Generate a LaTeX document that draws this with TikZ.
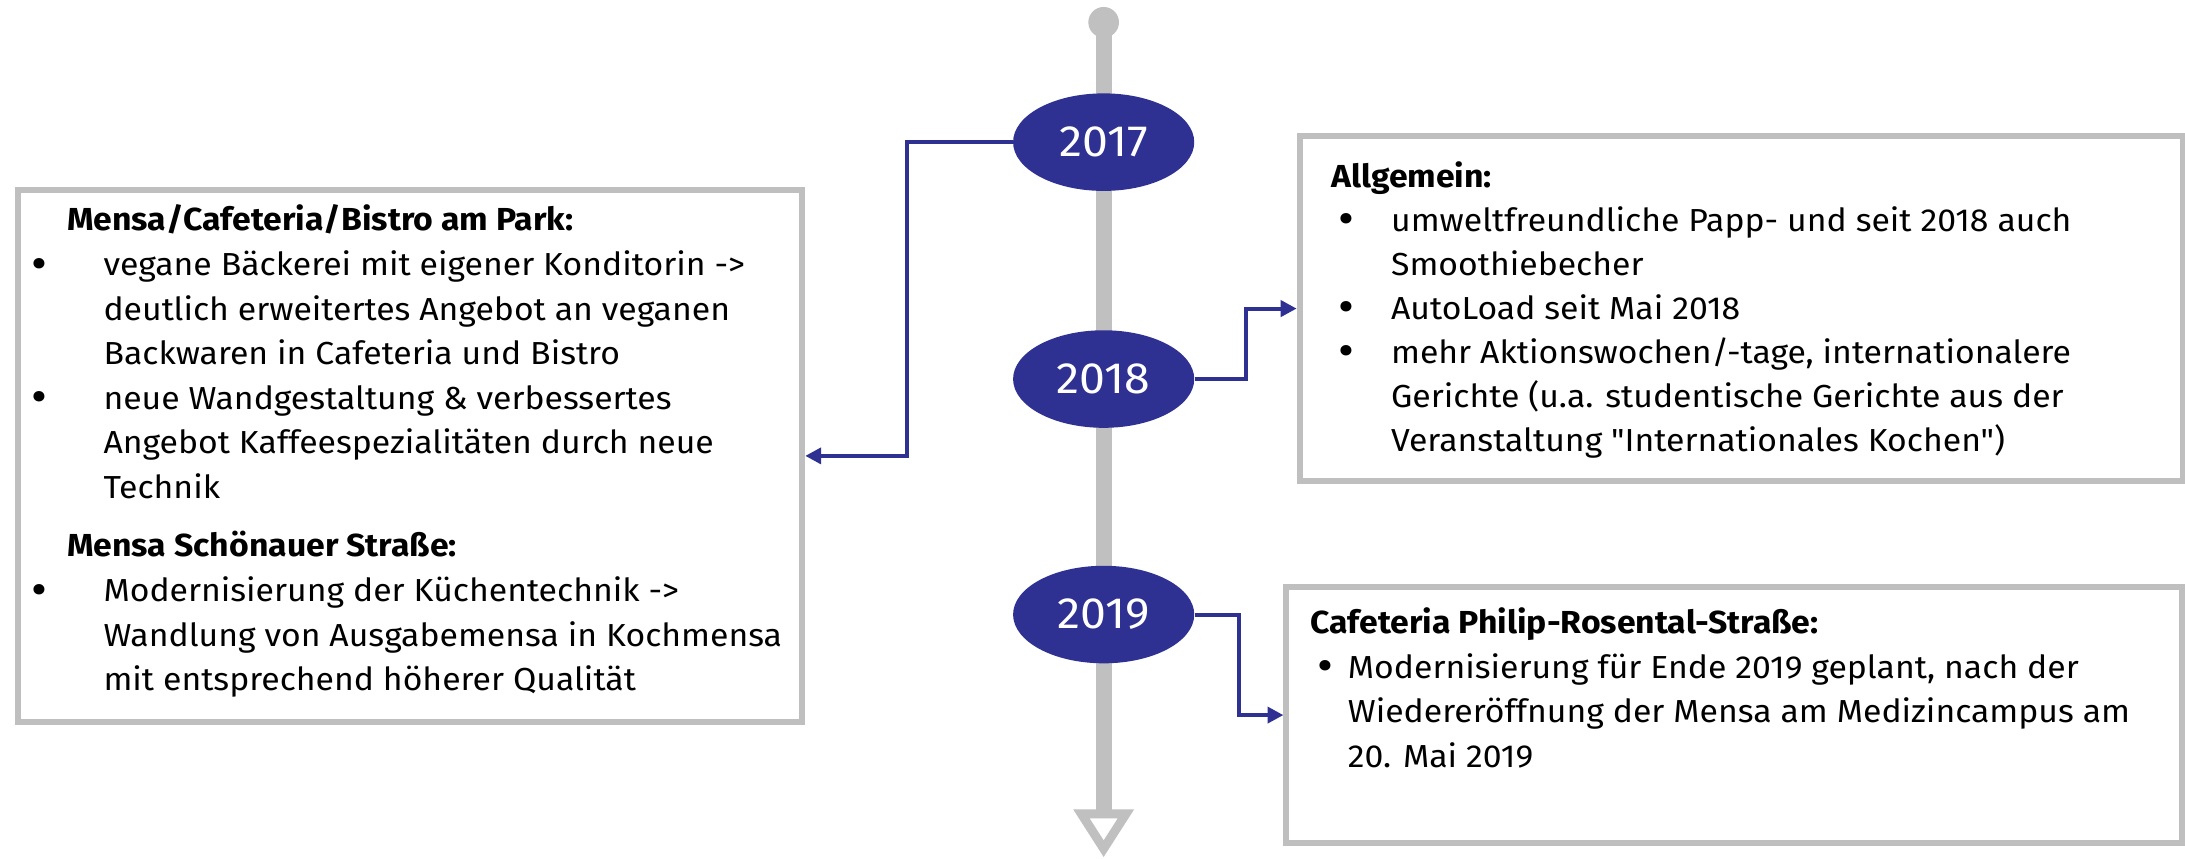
\documentclass[tikz,border=0pt]{standalone}
\usepackage{fontspec}
\setmainfont{Fira Sans}[Ligatures=TeXOff, FakeStretch=1.06]
\usetikzlibrary{shapes.geometric,arrows.meta}
\definecolor{tlgray}{HTML}{BFC0BF}
\definecolor{boxgray}{HTML}{BFBFBF}
\definecolor{navy}{HTML}{2E3192}
\newcommand{\bul}[1]{\makebox[#1][l]{\raisebox{-1.8pt}{\scalebox{1.45}{•}}}}
\begin{document}
\begin{tikzpicture}[x=0.7pt,y=-0.7pt,
  year/.style={ellipse, fill=navy, draw=none, minimum width=91pt, minimum height=49pt, inner sep=0pt, text=white, font=\fontsize{22}{26}\selectfont},
  infobox/.style={draw=boxgray, line width=3pt, rectangle, anchor=north west, inner sep=0pt},
  link/.style={draw=navy, line width=2pt, -{Triangle[length=8pt,width=8pt]}},
  txt/.style={anchor=north west, inner sep=0pt, align=left},
  tl/.style={draw=tlgray, line width=8pt}
]
\useasboundingbox (0,0) rectangle (1568,616);
\fill[white] (0,0) rectangle (1568,616);
% timeline
\node[circle, fill=tlgray, minimum size=15.4pt, inner sep=0pt] (top) at (792,16) {};
\coordinate (bot) at (792,584);
\draw[tl] (top.center) -- (bot);
\draw[draw=tlgray, line width=4.5pt, line join=miter] (776,584) -- (808,584) -- (792,609) -- cycle;
% years
\node[year] (y17) at (792,102) {2017};
\node[year] (y18) at (792,272) {2018};
\node[year] (y19) at (792,441) {2019};
% boxes
\node[infobox, minimum width=393.8pt, minimum height=267.4pt] (bl) at (11,134) {};
\node[infobox, minimum width=443.5pt, minimum height=173.3pt] (br1) at (930.5,95.5) {};
\node[infobox, minimum width=450pt, minimum height=128.8pt] (br2) at (921,419) {};
% connectors
\draw[link] (y17.west) -- (651,102) |- (bl.east);
\draw[link] (y18.east) -- (894,272) |- (br1.west);
\draw[link] (y19.east) -- (889,441) |- (br2.west);
% texts
\node[txt, font=\fontsize{16}{22.4}\selectfont] (tl) at (22,143) {%
\begin{tabular}{@{}l@{}l@{}}
\multicolumn{2}{@{}l@{}}{\hspace{18.2pt}\bfseries Mensa/Cafeteria/Bistro am Park:}\\
\bul{36.4pt} & vegane Bäckerei mit eigener Konditorin ->\\
 & deutlich erweitertes Angebot an veganen\\
 & Backwaren in Cafeteria und Bistro\\
\bul{36.4pt} & neue Wandgestaltung \& verbessertes\\
 & Angebot Kaffeespezialitäten durch neue\\
 & Technik\\[7pt]
\multicolumn{2}{@{}l@{}}{\hspace{18.2pt}\bfseries Mensa Schönauer Straße:}\\
\bul{36.4pt} & Modernisierung der Küchentechnik ->\\
 & Wandlung von Ausgabemensa in Kochmensa\\
 & mit entsprechend höherer Qualität
\end{tabular}};
\node[txt, font=\fontsize{16}{22.1}\selectfont] (tr1) at (955,112) {%
\begin{tabular}{@{}l@{}l@{}}
\multicolumn{2}{@{}l@{}}{\bfseries Allgemein:}\\
\hspace{3.5pt}\bul{26.6pt} & umweltfreundliche Papp- und seit 2018 auch\\
 & Smoothiebecher\\
\hspace{3.5pt}\bul{26.6pt} & AutoLoad seit Mai 2018\\
\hspace{3.5pt}\bul{26.6pt} & mehr Aktionswochen/-tage, internationalere\\
 & Gerichte (u.a. studentische Gerichte aus der\\
 & Veranstaltung "Internationales Kochen")
\end{tabular}};
\node[txt, font=\fontsize{16}{22.4}\selectfont] (tr2) at (940,432) {%
\begin{tabular}{@{}l@{}l@{}}
\multicolumn{2}{@{}l@{}}{\bfseries Cafeteria Philip-Rosental-Straße:}\\
\hspace{3.5pt}\bul{15.4pt} & Modernisierung für Ende 2019 geplant, nach der\\
 & Wiedereröffnung der Mensa am Medizincampus am\\
 & 20. Mai 2019
\end{tabular}};
\end{tikzpicture}
\end{document}
